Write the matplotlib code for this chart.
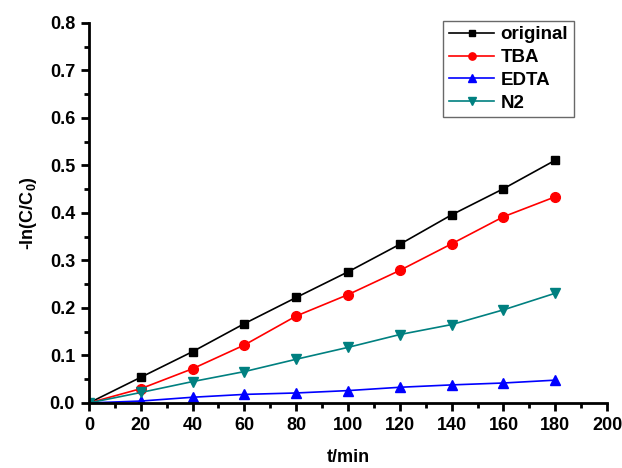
import matplotlib
matplotlib.use("Agg")
import matplotlib.pyplot as plt
from matplotlib.ticker import MultipleLocator

plt.rcParams['font.family'] = ['Liberation Sans', 'DejaVu Sans']
plt.rcParams['font.weight'] = 'bold'
plt.rcParams['mathtext.fontset'] = 'custom'
plt.rcParams['mathtext.bf'] = 'Liberation Sans:bold'

# reaction time (min)
t = [0, 20, 40, 60, 80, 100, 120, 140, 160, 180]

# -ln(C/C0) for each scavenger condition
original = [0.0, 0.054, 0.108, 0.167, 0.222, 0.276, 0.334, 0.396, 0.451, 0.511]
tba = [0.0, 0.030, 0.072, 0.122, 0.183, 0.228, 0.279, 0.335, 0.392, 0.434]
edta = [0.0, 0.004, 0.012, 0.018, 0.021, 0.026, 0.033, 0.038, 0.042, 0.048]
n2 = [0.0, 0.022, 0.045, 0.066, 0.092, 0.117, 0.144, 0.165, 0.196, 0.231]

fig = plt.figure(figsize=(6.22, 4.68), dpi=100)
ax = fig.add_axes([0.143, 0.139, 0.833, 0.812])

ax.plot(t, original, color='black', marker='s', ms=6, lw=1.2, label='original')
ax.plot(t, tba, color='red', marker='o', ms=7, lw=1.2, label='TBA')
ax.plot(t, edta, color='blue', marker='^', ms=7, lw=1.2, label='EDTA')
ax.plot(t, n2, color='#008080', marker='v', ms=7, lw=1.2, label='N2')

ax.set_xlim(0, 200)
ax.set_ylim(0, 0.8)
ax.xaxis.set_major_locator(MultipleLocator(20))
ax.xaxis.set_minor_locator(MultipleLocator(10))
ax.yaxis.set_major_locator(MultipleLocator(0.1))
ax.yaxis.set_minor_locator(MultipleLocator(0.05))
ax.yaxis.set_major_formatter(plt.FormatStrFormatter('%.1f'))

for s in ['top', 'right']:
    ax.spines[s].set_visible(False)
for s in ['left', 'bottom']:
    ax.spines[s].set_linewidth(2)

ax.tick_params(which='major', direction='out', length=6, width=2, labelsize=13, pad=4)
ax.tick_params(which='minor', direction='out', length=3.5, width=2)
for lab in ax.get_xticklabels() + ax.get_yticklabels():
    lab.set_fontweight('bold')

ax.set_xlabel('t/min', fontsize=13, fontweight='bold', labelpad=11)
ax.set_ylabel('-ln(C/C$_\\mathbf{0}$)', fontsize=13, fontweight='bold', labelpad=8)

leg = ax.legend(loc='upper right', bbox_to_anchor=(0.936, 1.006), borderaxespad=0,
                fontsize=13.5, frameon=True, fancybox=False, handlelength=2.4,
                markerscale=0.75, borderpad=0.3, labelspacing=0.3, handletextpad=0.35)
leg.get_frame().set_edgecolor('#444444')
leg.get_frame().set_linewidth(1)
for txt in leg.get_texts():
    txt.set_fontweight('bold')

fig.savefig('out.png', dpi=100)
